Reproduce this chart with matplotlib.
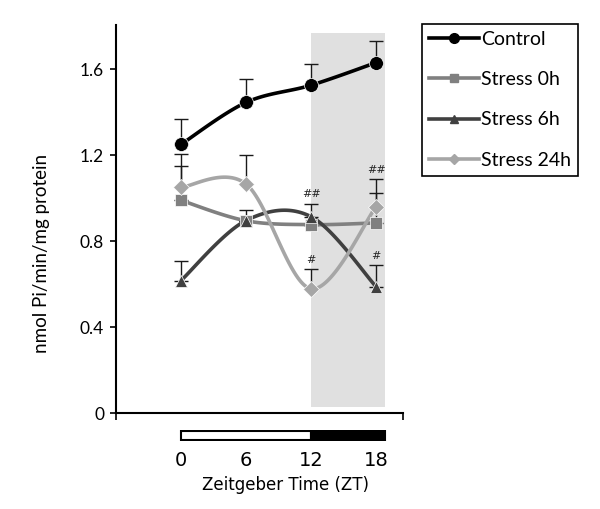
import numpy as np
import matplotlib
matplotlib.use("Agg")
import matplotlib.pyplot as plt
from matplotlib.patches import Rectangle

# ---------------- data ----------------
zt = [0, 6, 12, 18]
series_names = ["Control", "Stress 0h", "Stress 6h", "Stress 24h"]
control = [1.25, 1.445, 1.525, 1.63]
stress_0h = [0.99, 0.895, 0.877, 0.885]
stress_6h = [0.617, 0.896, 0.914, 0.589]
stress_24h = [1.05, 1.066, 0.579, 0.96]
control_err = [0.12, 0.11, 0.10, 0.10]
stress_0h_err = [0.16, 0.0, 0.0, 0.14]
stress_6h_err = [0.09, 0.05, 0.06, 0.10]
stress_24h_err = [0.155, 0.135, 0.09, 0.13]
# significance marks: (series index, ZT index, text)
sig_series = [2, 3, 3, 2]
sig_zt = [2, 2, 3, 3]
sig_text = ["##", "#", "##", "#"]
ytick_vals = [0, 0.4, 0.8, 1.2, 1.6]
ytick_labels = ["0", "0.4", "0.8", "1.2", "1.6"]
xtick_vals = [0, 6, 12, 18]
xtick_labels = ["0", "6", "12", "18"]
night_start = 12
view_end = 18.8

# ---------------- styles ----------------
colors = ["#000000", "#808080", "#404040", "#a6a6a6"]
markers = ["o", "s", "^", "D"]
msizes = [10, 8, 9, 8]

def smooth(x, y, n=40):
    """Catmull-Rom style smoothing (Excel-like smoothed line)."""
    P = np.column_stack([x, y]).astype(float)
    P = np.vstack([P[0], P, P[-1]])
    out = []
    for i in range(1, len(P) - 2):
        p0, p1, p2, p3 = P[i - 1], P[i], P[i + 1], P[i + 2]
        c1 = p1 + (p2 - p0) / 6.0
        c2 = p2 - (p3 - p1) / 6.0
        t = np.linspace(0, 1, n)[:, None]
        seg = ((1 - t) ** 3) * p1 + 3 * ((1 - t) ** 2) * t * c1 + 3 * (1 - t) * t ** 2 * c2 + t ** 3 * p2
        out.append(seg if i == 1 else seg[1:])
    s = np.vstack(out)
    return s[:, 0], s[:, 1]

W, H = 600, 509
fig = plt.figure(figsize=(W / 100, H / 100), dpi=100)
ax = fig.add_axes([116 / W, 1 - 413.3 / H, (403 - 116) / W, (413.3 - 25) / H])
ax.set_xlim(-6.0, 20.49)
ax.set_ylim(0, 1.805)

# night shading
ax.add_patch(Rectangle((night_start, 0.03), view_end - night_start, 1.74,
                       facecolor="#e0e0e0", edgecolor="none", zorder=0))

all_vals = [control, stress_0h, stress_6h, stress_24h]
all_err = [control_err, stress_0h_err, stress_6h_err, stress_24h_err]

for vals, err in zip(all_vals, all_err):
    ax.errorbar(zt, vals, yerr=[np.zeros(len(err)), err], fmt="none",
                ecolor="#1a1a1a", elinewidth=1.0, capsize=5, capthick=1.0, zorder=2)

handles = []
for i, vals in enumerate(all_vals):
    sx, sy = smooth(zt, vals)
    ax.plot(sx, sy, color=colors[i], lw=2.6, solid_capstyle="round", zorder=3 + i * 0.1)
    ax.plot(zt, vals, linestyle="none", marker=markers[i], ms=msizes[i],
            color=colors[i], mec="white", mew=0.5, zorder=4 + i * 0.1)
    h, = ax.plot([], [], color=colors[i], lw=2.6, marker=markers[i],
                 ms=msizes[i] * 0.7, mec=colors[i])
    handles.append(h)

for s, k, txt in zip(sig_series, sig_zt, sig_text):
    top = all_vals[s][k] + all_err[s][k]
    ax.text(zt[k], top + 0.02, txt, ha="center", va="bottom", fontsize=8,
            family="DejaVu Sans", color="#222222", zorder=6)

for sp in ["top", "right"]:
    ax.spines[sp].set_visible(False)
for sp in ["left", "bottom"]:
    ax.spines[sp].set_linewidth(1.5)
ax.set_yticks(ytick_vals)
ax.set_yticklabels(ytick_labels, family="Lato", fontsize=12.5)
ax.tick_params(axis="y", direction="out", length=4.5, width=1.2, pad=4)
ax.set_xticks([-6.0, 20.49])
ax.set_xticklabels([])
ax.tick_params(axis="x", direction="out", length=5, width=1.2)
for t in ax.get_xticklines():
    t.set_clip_on(False)

fig.text(42 / W, 1 - 253 / H, "nmol Pi/min/mg protein", rotation=90,
         ha="center", va="center", family="Lato", fontsize=13.5)

# light/dark bar
bx = fig.add_axes([116 / W, 1 - 441 / H, (403 - 116) / W, 11 / H])
bx.set_xlim(-6.0, 20.49)
bx.set_ylim(0, 1)
bx.add_patch(Rectangle((0, 0.05), night_start, 0.9, facecolor="white",
                       edgecolor="black", lw=1.5))
bx.add_patch(Rectangle((night_start, 0.05), view_end - night_start, 0.9,
                       facecolor="black", edgecolor="black", lw=1.5))
for sp in bx.spines.values():
    sp.set_visible(False)
bx.set_yticks([])
bx.set_xticks(xtick_vals)
bx.set_xticklabels(xtick_labels, family="DejaVu Sans", fontsize=14)
bx.tick_params(axis="x", length=0, pad=7)
bx.set_xlabel("Zeitgeber Time (ZT)", family="DejaVu Sans", fontsize=12)
bx.xaxis.set_label_coords((285 - 116) / (403 - 116), -3.2)

leg = fig.legend(handles, series_names, loc="upper left",
                 bbox_to_anchor=(422 / W, 1 - 24 / H), frameon=True,
                 fancybox=False, edgecolor="black", framealpha=1,
                 prop={"family": "Lato", "size": 14}, handlelength=2.6,
                 handletextpad=0.1, labelspacing=1.2, borderpad=0.35,
                 borderaxespad=0)
leg.get_frame().set_linewidth(1.2)

fig.savefig("out.png", dpi=100)
